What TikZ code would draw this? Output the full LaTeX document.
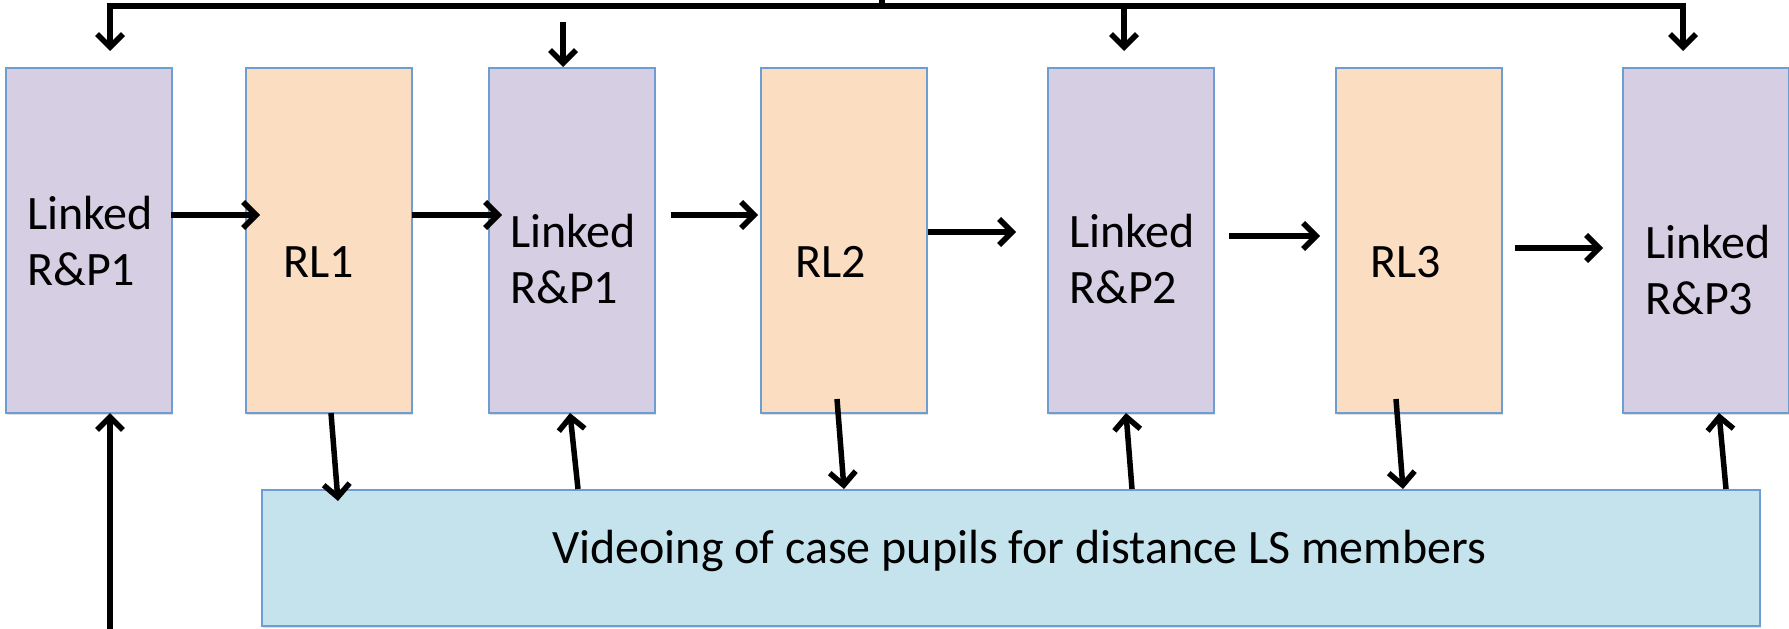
\documentclass[tikz,border=0pt]{standalone}
\usepackage{fontspec}
\setmainfont{Carlito}
\usetikzlibrary{arrows.meta,shadows}
\definecolor{purplebox}{HTML}{D6CEE2}
\definecolor{peachbox}{HTML}{FBDDC2}
\definecolor{bluebox}{HTML}{C4E3EC}
\definecolor{boxborder}{HTML}{6E9DD3}
\tikzset{
  boxbase/.style={draw=boxborder, line width=1.5pt, rectangle, inner sep=0pt, anchor=north west,
    drop shadow={opacity=0.25, shadow xshift=1.5pt, shadow yshift=-2.5pt}},
  rpbox/.style={boxbase, fill=purplebox, minimum width=166pt, minimum height=345pt},
  rlbox/.style={boxbase, fill=peachbox, minimum width=166pt, minimum height=345pt},
  vidbox/.style={boxbase, fill=bluebox, minimum width=1498pt, minimum height=136pt},
  lbl/.style={anchor=base west, inner sep=0pt, align=left, font=\fontsize{48}{56}\selectfont},
  arr/.style={line width=5.5pt, -{Straight Barb[length=13pt, width=26pt, line width=5.5pt]}},
  plain/.style={line width=5.5pt},
}
\begin{document}
\begin{tikzpicture}[x=1pt, y=-1pt]
\useasboundingbox (0,0) rectangle (1789,629);
% boxes
\node[rpbox] (b1) at (5,67) {};
\node[rlbox] (b2) at (245,67) {};
\node[rpbox] (b3) at (488,67) {};
\node[rlbox] (b4) at (760,67) {};
\node[rpbox] (b5) at (1047,67) {};
\node[rlbox] (b6) at (1335,67) {};
\node[rpbox] (b7) at (1622,67) {};
\node[vidbox] (vid) at (261,489) {};
% labels (base anchor = baseline of last line)
\node[lbl] (t1) at (27,285) {Linked\\R\&P1};
\node[lbl] (t2) at (283,277) {RL1};
\node[lbl] (t3) at (510,303) {Linked\\R\&P1};
\node[lbl] (t4) at (795,277) {RL2};
\node[lbl] (t5) at (1069,303) {Linked\\R\&P2};
\node[lbl] (t6) at (1370,277) {RL3};
\node[lbl] (t7) at (1645,314) {Linked\\R\&P3};
\node[lbl] (tv) at (552,563) {Videoing of case pupils for distance LS members};
% top feedback line
\coordinate (tl) at (110,6);
\coordinate (tr) at (1683,6);
\coordinate (stem) at (882,0);
\coordinate (stemb) at (882,6);
\draw[plain, line join=miter] (110,40) -- (tl) -- (tr) -- (1683,40);
\draw[arr] (tl) -- (110,51);
\draw[arr] (tr) -- (1683,51);
\draw[plain] (stem) -- (stemb);
\coordinate (a3s) at (563,22);
\draw[arr] (a3s) -- (b3.north -| a3s);
\coordinate (a5s) at (1124,6);
\draw[arr] (a5s) -- (1124,51);
% horizontal flow
\draw[arr] (171,215) -- (260,215);
\draw[arr] (412,215) -- (502,215);
\draw[arr] (671,215) -- (758,215);
\draw[arr] (928,232) -- (1016,232);
\draw[arr] (1229,236) -- (1320,236);
\draw[arr] (1515,248) -- (1603,248);
% vertical to/from video box
\draw[arr] (331,413) -- (338,501);
\draw[arr] (578,489) -- (570,413);
\draw[arr] (837,399) -- (844,489);
\draw[arr] (1132,489) -- (1126,413);
\draw[arr] (1396,399) -- (1403,489);
\draw[arr] (1726,489) -- (1719,413);
\coordinate (lb) at (110,629);
\draw[arr] (lb) -- (110,413);
\end{tikzpicture}
\end{document}
